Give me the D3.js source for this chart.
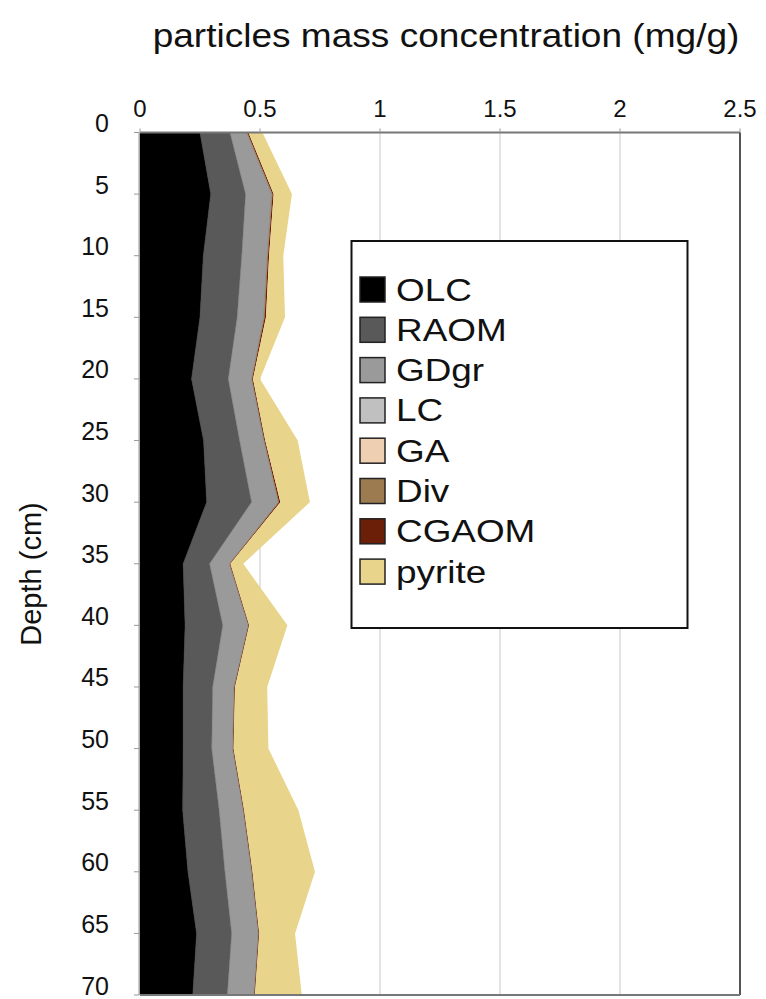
<!DOCTYPE html>
<html>
<head>
<meta charset="utf-8">
<script src="https://cdn.jsdelivr.net/npm/d3@7"></script>
<style>
  html, body { margin: 0; padding: 0; background: #fff; }
  svg { display: block; font-family: "Liberation Sans", Arial, sans-serif; }
</style>
</head>
<body>
<svg id="chart" width="766" height="999"></svg>
<script>
// ---- data ----
const depths = [0, 5, 10, 15, 20, 25, 30, 35, 40, 45, 50, 55, 60, 65, 70];
const seriesNames = ["OLC", "RAOM", "GDgr", "LC", "GA", "Div", "CGAOM", "pyrite"];
const OLC    = [0.250, 0.295, 0.264, 0.250, 0.215, 0.265, 0.278, 0.180, 0.188, 0.180, 0.180, 0.178, 0.200, 0.236, 0.220];
const RAOM   = [0.125, 0.145, 0.160, 0.155, 0.153, 0.150, 0.187, 0.110, 0.157, 0.123, 0.119, 0.152, 0.154, 0.146, 0.144];
const GDgr   = [0.069, 0.109, 0.106, 0.111, 0.097, 0.101, 0.111, 0.082, 0.106, 0.089, 0.087, 0.100, 0.111, 0.111, 0.111];
const LC     = [0, 0, 0, 0, 0, 0, 0, 0, 0, 0, 0, 0, 0, 0, 0];
const GA     = [0, 0, 0, 0, 0, 0, 0, 0, 0, 0, 0, 0, 0, 0, 0];
const Div    = [0.003, 0.003, 0.003, 0.003, 0.002, 0.002, 0.003, 0.002, 0.001, 0.001, 0.001, 0.001, 0.001, 0.001, 0.001];
const CGAOM  = [0.005, 0.005, 0.005, 0.006, 0.004, 0.004, 0.006, 0.003, 0.003, 0.003, 0.003, 0.003, 0.003, 0.003, 0.003];
const pyrite = [0.058, 0.076, 0.059, 0.079, 0.029, 0.135, 0.123, 0.053, 0.159, 0.134, 0.145, 0.226, 0.260, 0.149, 0.195];
const xTicks = [0, 0.5, 1, 1.5, 2, 2.5];
const yTicks = [0, 5, 10, 15, 20, 25, 30, 35, 40, 45, 50, 55, 60, 65, 70];
const colors = ["#000000", "#595959", "#9a9a9a", "#c0c0c0", "#efcfb2", "#9c7b50", "#6b1f08", "#e8d48a"];

const valuesBy = { OLC, RAOM, GDgr, LC, GA, Div, CGAOM, pyrite };
const rows = depths.map((d, i) => {
  const r = { depth: d };
  seriesNames.forEach(n => r[n] = valuesBy[n][i]);
  return r;
});

// ---- layout ----
const svg = d3.select("#chart");
const x = d3.scaleLinear().domain([0, 2.5]).range([140, 740]);
const y = d3.scaleLinear().domain([0, 70]).range([132.5, 995]);

// gridlines
svg.append("g")
  .selectAll("line")
  .data(xTicks.filter(t => t > 0 && t < 2.5))
  .join("line")
  .attr("x1", d => x(d)).attr("x2", d => x(d))
  .attr("y1", y(0)).attr("y2", y(70))
  .attr("stroke", "#c8c8c8").attr("stroke-width", 1);

// stacked areas (horizontal: depth on y, value on x)
const stack = d3.stack().keys(seriesNames);
const layers = stack(rows);
const area = d3.area()
  .y(d => y(d.data.depth))
  .x0(d => x(d[0]))
  .x1(d => x(d[1]));

svg.append("g")
  .selectAll("path")
  .data(layers)
  .join("path")
  .attr("d", area)
  .attr("fill", (d, i) => colors[i])
  .attr("stroke", (d, i) => i < 3 ? d3.color(colors[i]).darker(0.6) : "none")
  .attr("stroke-width", 0.6);

// frame: top axis, right and bottom
svg.append("line").attr("x1", x(0)).attr("x2", x(2.5)).attr("y1", y(0)).attr("y2", y(0))
  .attr("stroke", "#777").attr("stroke-width", 2);
svg.append("line").attr("x1", x(2.5)).attr("x2", x(2.5)).attr("y1", y(0)).attr("y2", y(70))
  .attr("stroke", "#555").attr("stroke-width", 2);
svg.append("line").attr("x1", x(0)).attr("x2", x(2.5)).attr("y1", y(70)).attr("y2", y(70))
  .attr("stroke", "#777").attr("stroke-width", 2);
svg.append("line").attr("x1", x(0) - 1).attr("x2", x(0) - 1).attr("y1", y(0)).attr("y2", y(70))
  .attr("stroke", "#999").attr("stroke-width", 1);

// top axis ticks and labels
const xAxis = svg.append("g");
xAxis.selectAll("line").data(xTicks).join("line")
  .attr("x1", d => x(d)).attr("x2", d => x(d))
  .attr("y1", y(0) - 4).attr("y2", y(0))
  .attr("stroke", "#999");
xAxis.selectAll("text").data(xTicks).join("text")
  .attr("x", d => x(d)).attr("y", 117)
  .attr("text-anchor", "middle")
  .attr("font-size", 24)
  .attr("fill", "#111")
  .text(d => d3.format("~g")(d));

// left axis ticks and labels
const yAxis = svg.append("g");
yAxis.selectAll("line").data(yTicks).join("line")
  .attr("x1", x(0) - 6).attr("x2", x(0) - 1)
  .attr("y1", d => y(d)).attr("y2", d => y(d))
  .attr("stroke", "#999");
yAxis.selectAll("text").data(yTicks).join("text")
  .attr("x", 109).attr("y", d => y(d) - 0.5)
  .attr("text-anchor", "end")
  .attr("font-size", 25)
  .attr("fill", "#111")
  .text(d => d);

// axis titles
svg.append("text")
  .attr("transform", "translate(446,47) scale(1.09,1)")
  .attr("text-anchor", "middle")
  .attr("font-size", 34)
  .attr("fill", "#111")
  .text("particles mass concentration (mg/g)");

svg.append("text")
  .attr("transform", "translate(41,574) rotate(-90)")
  .attr("text-anchor", "middle")
  .attr("font-size", 29)
  .attr("fill", "#111")
  .text("Depth (cm)");

// legend
const lg = svg.append("g");
lg.append("rect")
  .attr("x", 351.5).attr("y", 241).attr("width", 336).attr("height", 387)
  .attr("fill", "#fff").attr("stroke", "#111").attr("stroke-width", 2);
const item = lg.selectAll("g.item").data(seriesNames).join("g")
  .attr("class", "item")
  .attr("transform", (d, i) => `translate(0, ${289.5 + i * 40.3})`);
item.append("rect")
  .attr("x", 360).attr("y", -12.5).attr("width", 25).attr("height", 25)
  .attr("fill", (d, i) => colors[i])
  .attr("stroke", "#222").attr("stroke-width", 1.5);
item.append("text")
  .attr("transform", "translate(396,11) scale(1.19,1)")
  .attr("font-size", 31)
  .attr("fill", "#111")
  .text(d => d);
</script>
</body>
</html>
